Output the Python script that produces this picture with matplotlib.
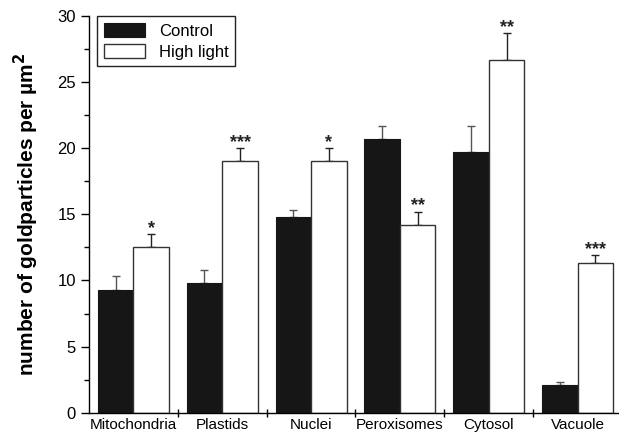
import numpy as np
import matplotlib
matplotlib.use('Agg')
import matplotlib.pyplot as plt
from matplotlib.ticker import MultipleLocator, FixedLocator, NullFormatter, FixedFormatter

plt.rcParams['font.family'] = ['Liberation Sans', 'DejaVu Sans']

# data
compartments = ['Mitochondria', 'Plastids', 'Nuclei', 'Peroxisomes', 'Cytosol', 'Vacuole']
control = [9.3, 9.8, 14.8, 20.7, 19.7, 2.1]
control_err = [1.0, 1.0, 0.5, 1.0, 2.0, 0.2]
high_light = [12.5, 19.0, 19.0, 14.2, 26.7, 11.3]
high_light_err = [1.0, 1.0, 1.0, 1.0, 2.0, 0.6]
signif = ['*', '***', '*', '**', '**', '***']

fig = plt.figure(figsize=(6.19, 4.38), dpi=100)
ax = fig.add_axes([89 / 619, (438 - 412.7) / 438, 530 / 619, 396.7 / 438])

x = np.arange(len(compartments))
w = 0.4
ax.bar(x - w / 2, control, w, align='center', color='#161616', edgecolor='#161616',
       linewidth=0.8, label='Control', zorder=2)
ax.bar(x + w / 2, high_light, w, align='center', color='white', edgecolor='#333333',
       linewidth=1.0, label='High light', zorder=2)

ax.errorbar(x - w / 2, control, yerr=[np.zeros(len(x)), control_err], fmt='none',
            ecolor='#555555', elinewidth=1.0, capsize=3, capthick=1.0, zorder=1)
ax.errorbar(x + w / 2, high_light, yerr=[np.zeros(len(x)), high_light_err], fmt='none',
            ecolor='#222222', elinewidth=1.0, capsize=3, capthick=1.0, zorder=1)

for xi, v, e, s in zip(x, high_light, high_light_err, signif):
    ax.annotate(s, (xi + w / 2, v + e), xytext=(0, -2), textcoords='offset points',
                ha='center', va='bottom', fontsize=13, fontweight='bold', color='#222222')

ax.set_xlim(-0.5, 5.5 - 3 / 89)
ax.set_ylim(0, 30)

ax.spines['top'].set_visible(False)
ax.spines['right'].set_visible(False)
ax.spines['left'].set_linewidth(1.0)
ax.spines['bottom'].set_linewidth(1.0)

ax.yaxis.set_major_locator(MultipleLocator(5))
ax.yaxis.set_minor_locator(MultipleLocator(2.5))
ax.tick_params(axis='y', which='major', direction='out', length=6, width=1.0, labelsize=12)
ax.tick_params(axis='y', which='minor', direction='out', length=3.5, width=1.0)

ax.xaxis.set_major_locator(FixedLocator(x[:-1] + 0.5))
ax.xaxis.set_major_formatter(NullFormatter())
ax.xaxis.set_minor_locator(FixedLocator(x))
ax.xaxis.set_minor_formatter(FixedFormatter(compartments))
ax.tick_params(axis='x', which='major', direction='inout', length=6, width=1.0)
ax.tick_params(axis='x', which='minor', length=0, labelsize=11, pad=4)

ax.set_ylabel('number of goldparticles per µm$^\\mathbf{2}$', fontsize=15, fontweight='bold', labelpad=12)

ax.legend(loc='upper left', bbox_to_anchor=(8 / 530, 1.0), borderaxespad=0, fontsize=12,
          frameon=True, fancybox=False, edgecolor='#222222', framealpha=1,
          handlelength=2.5, handleheight=0.95, handletextpad=0.8, labelspacing=0.3,
          borderpad=0.4)

fig.savefig('out.png', dpi=100)
